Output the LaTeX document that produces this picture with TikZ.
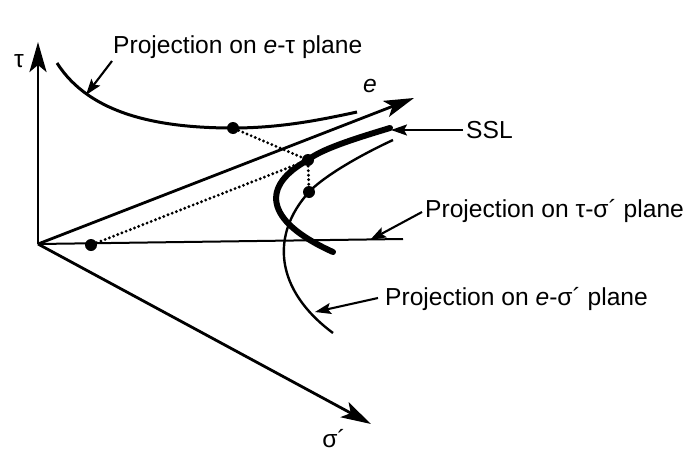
\documentclass[tikz,border=0pt]{standalone}
\usepackage{fontspec}
\setmainfont{Liberation Sans}
\usetikzlibrary{arrows.meta}
\begin{document}
\begin{tikzpicture}[x=1pt,y=-1pt,
  axis/.style={line width=2.8pt,-{Stealth[length=30pt,width=17pt,inset=7pt]}},
  pointer/.style={line width=2.1pt,-{Stealth[length=16pt,width=11pt,inset=3pt]}},
  curve/.style={line width=3pt},
  ssl/.style={line width=6pt,line cap=round},
  thin curve/.style={line width=2.4pt},
  dotline/.style={line width=3.2pt,line cap=round,dash pattern=on 0pt off 4.5pt},
  pt/.style={circle,fill=black,inner sep=0pt,minimum size=12pt},
  lbl/.style={font=\fontsize{24.6}{29}\selectfont,inner sep=0pt,anchor=base west},
  axlbl/.style={font=\fontsize{24.6}{29}\selectfont,inner sep=0pt,anchor=base}]
\useasboundingbox (0,0) rectangle (686,466);
\fill[white] (0,0) rectangle (686,466);
% axes
\coordinate (O) at (38,244);
\coordinate (tautip) at (38,42);
\coordinate (etip) at (414,98);
\coordinate (sigtip) at (371,424);
\coordinate (hend) at (403,239);
\draw[axis] (O) -- (tautip);
\draw[axis] (O) -- (etip);
\draw[axis] (O) -- (sigtip);
\draw[line width=2pt] (O) -- (hend);
\node[axlbl] (taulbl) at (19,67) {τ};
\node[axlbl] (elbl) at (370,92) {\textit{e}};
\node[axlbl] (siglbl) at (334,447) {σ´};
% e-tau projection
\coordinate (etstart) at (57,63);
\coordinate (etend) at (357,112);
\node[pt] (A) at (233,128) {};
\draw[curve] (etstart) .. controls (90,115) and (160,128) .. (A.center)
   .. controls (280,128) and (320,120) .. (etend);
% SSL
\coordinate (sslstart) at (390,128);
\coordinate (sslend) at (333,252);
\node[pt] (B) at (308,160) {};
\draw[ssl] (sslstart) .. controls (350,140) and (320,150) .. (B.center)
   .. controls (262,185) and (262,220) .. (sslend);
% e-sigma projection
\coordinate (esstart) at (393,140);
\coordinate (esend) at (333,333);
\node[pt] (C) at (309,192) {};
\draw[thin curve] (esstart) .. controls (350,160) and (320,180) .. (C.center)
   .. controls (270,235) and (275,290) .. (esend);
% tau-sigma point
\node[pt] (D) at (91,245) {};
% dotted connectors
\draw[dotline] (A) -- (B);
\draw[dotline] (D) -- (B);
\draw[dotline] (B) -- (C);
% labels and pointers
\node[lbl] (l1) at (113,53) {Projection on \textit{e}-τ plane};
\coordinate (p1s) at (112,61);
\coordinate (p1e) at (86,95);
\draw[pointer] (p1s) -- (p1e);
\node[lbl] (l2) at (466,138) {SSL};
\coordinate (p2s) at (463,130);
\coordinate (p2e) at (391,130);
\draw[pointer] (p2s) -- (p2e);
\node[lbl] (l3) at (425,217) {Projection on τ-σ´ plane};
\coordinate (p3s) at (422,212);
\coordinate (p3e) at (370,240);
\draw[pointer] (p3s) -- (p3e);
\node[lbl] (l4) at (385,305) {Projection on \textit{e}-σ´ plane};
\coordinate (p4s) at (378,298);
\coordinate (p4e) at (315,312);
\draw[pointer] (p4s) -- (p4e);
\end{tikzpicture}
\end{document}
